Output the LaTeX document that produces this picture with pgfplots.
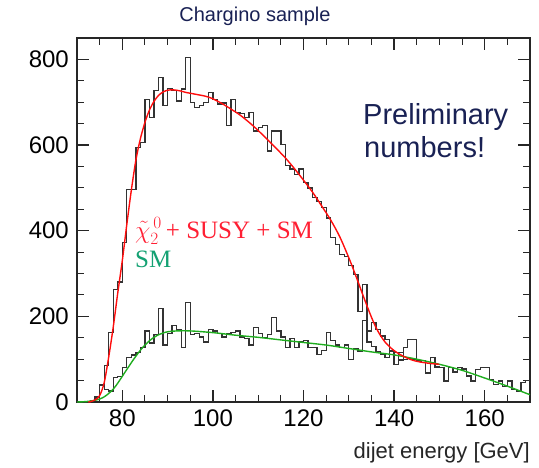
\documentclass[border=0pt]{standalone}
\usepackage{pgfplots}
\pgfplotsset{compat=1.18}
\usepackage{pgfplotstable}
\usepackage{fontspec}
\setmainfont{Liberation Sans}
\newfontfamily\seriffont{Liberation Serif}
\definecolor{histc}{rgb}{0.2,0.2,0.2}
\definecolor{fitred}{rgb}{1,0.05,0.05}
\definecolor{fitgreen}{rgb}{0.12,0.68,0.12}
\definecolor{labred}{rgb}{1,0.12,0.2}
\definecolor{labgreen}{rgb}{0.08,0.63,0.45}
\definecolor{navy}{rgb}{0.1,0.13,0.33}

\pgfplotstableread{
E v
70 0
71 0
72 0
73 3
74 12
75 38
76 85
77 162
78 262
79 280
80 372
81 497
82 497
83 594
84 606
85 707
86 664
87 727
88 758
89 692
90 732
91 728
92 703
93 731
94 805
95 699
96 688
97 692
98 699
99 723
100 707
101 696
102 698
103 645
104 707
105 676
106 674
107 664
108 676
109 633
110 641
111 645
112 586
113 633
114 633
115 602
116 552
117 544
118 532
119 544
120 512
121 500
122 477
123 469
124 454
125 430
126 384
127 368
128 345
129 340
130 318
131 298
132 212
133 275
134 166
135 185
136 170
137 154
138 146
139 119
140 115
141 98
142 127
143 146
144 146
145 96
146 97
147 97
}\sighist

\pgfplotstableread{
E v
70 0
71 0
72 1
73 3
74 6
75 40
76 30
77 26
78 57
79 60
80 80
81 104
82 110
83 115
84 127
85 166
86 138
87 157
88 219
89 133
90 160
91 178
92 170
93 127
94 232
95 157
96 160
97 152
98 140
99 170
100 166
101 160
102 152
103 160
104 162
105 166
106 152
107 148
108 133
109 174
110 160
111 150
112 158
113 197
114 166
115 152
116 127
117 148
118 127
119 140
120 144
121 127
122 127
123 111
124 120
125 162
126 144
127 133
128 127
129 133
130 100
131 125
132 118
133 190
134 140
135 130
136 118
137 112
138 104
139 118
140 88
141 115
142 100
143 102
144 100
145 97
146 97
147 68
148 104
149 82
150 80
151 49
152 81
153 70
154 80
155 77
156 61
157 49
158 76
159 80
160 80
161 53
162 41
163 49
164 37
165 49
166 29
167 26
168 45
169 50
170 50
}\smhist

\pgfplotstableread{
E v
72.5 0
73 1
74 5
75 15
76 45
77 105
78 175
79 255
80 330
81 415
82 495
83 565
84 615
85 653
86 682
87 702
88 716
89 724
90 728
91 729
92 728
93 726
94 723
95 721
96 719
97 717
98 715
99 712
100 708
102 697
104 684
106 670
108 653
110 634
112 613
114 592
116 570
118 545
120 518
122 490
124 458
126 425
128 386
130 337
131 310
132 282
133 253
134 225
135 198
136 174
137 155
138 140
139 129
140 120
141 113
142 107
143 102
144 98
145 95
146 93
148 90
150 88
}\redfit

\pgfplotstableread{
E v
70 0
72 1
74 4
75 7
76 12
77 20
78 30
79 44
80 60
81 76
82 92
83 107
84 121
85 133
86 143
87 151
88 157
89 161
90 164
92 166
95 166
100 162
105 156
110 151
115 145
120 139
125 133
130 125
135 117
140 110
145 100
150 88
155 74
160 56
165 37
170 17
}\greenfit

\begin{document}
\fontsize{24}{24}\selectfont
\begin{tikzpicture}
\path[use as bounding box] (0,0) rectangle (539pt,467pt);
\begin{axis}[
  at={(77pt,65pt)}, anchor=south west,
  scale only axis, width=453pt, height=364pt,
  xmin=70, xmax=170, ymin=0, ymax=850,
  xtick={80,100,...,160}, minor xtick={70,75,...,170},
  ytick={0,200,...,800}, minor ytick={0,50,...,850},
  tick align=inside,
  major tick length=12pt, minor tick length=7pt,
  every major tick/.append style={line width=1.3pt, black!85},
  every minor tick/.append style={line width=1.1pt, black!85},
  axis line style={line width=1.4pt, black!85},
  /pgf/number format/assume math mode=true,
]
\addplot[const plot, histc, line width=1.3pt] table[x=E,y=v] {\smhist};
\addplot[const plot, histc, line width=1.3pt] table[x=E,y=v] {\sighist};
\addplot[smooth, fitgreen, line width=1.4pt] table[x=E,y=v] {\greenfit};
\addplot[smooth, fitred, line width=1.4pt] table[x=E,y=v] {\redfit};
\end{axis}
\node[anchor=base, text=navy, font=\fontsize{20}{20}\selectfont] at (255pt,445pt) {Chargino sample};
\node[anchor=base west, text=navy, font=\fontsize{29}{29}\selectfont, inner sep=0pt] at (363pt,342pt) {Preliminary};
\node[anchor=base west, text=navy, font=\fontsize{29}{29}\selectfont, inner sep=0pt] at (364pt,309pt) {numbers!};
\node[anchor=base west, text=labred, font=\seriffont\fontsize{25}{25}\selectfont, inner sep=0pt] at (135pt,229pt) {$\tilde{\chi}_2^{\,0}$\,+ SUSY + SM};
\node[anchor=base west, text=labgreen, font=\seriffont\fontsize{25}{25}\selectfont, inner sep=0pt] at (135pt,200pt) {SM};
\node[anchor=base east, font=\fontsize{22}{22}\selectfont, inner sep=0pt, text=black!85] at (530pt,9pt) {dijet energy [GeV]};
\end{tikzpicture}
\end{document}
